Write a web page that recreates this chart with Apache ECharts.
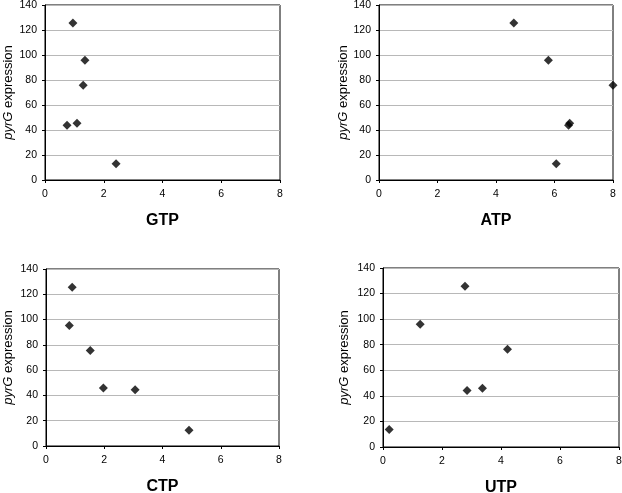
<!DOCTYPE html>
<html><head><meta charset="utf-8">
<script src="https://cdn.jsdelivr.net/npm/echarts@6/dist/echarts.min.js"></script>
<style>html,body{margin:0;padding:0;background:#fff}#c{width:622px;height:493px}</style>
</head><body><div id="c"></div>
<script>
const expression = [125.6, 95.8, 75.9, 43.9, 45.5, 13.0];
const gtp = [0.95, 1.36, 1.30, 0.75, 1.09, 2.42];
const atp = [4.61, 5.79, 8.0, 6.48, 6.52, 6.06];
const ctpExpr = [125.5, 95.3, 75.5, 44.5, 45.8, 12.4];
const ctp = [0.90, 0.80, 1.52, 3.06, 1.97, 4.91];
const utpExpr = [125.8, 96.0, 76.5, 44.1, 46.0, 13.6];
const utp = [2.78, 1.26, 4.22, 2.85, 3.37, 0.21];
const panelNames = ['GTP', 'ATP', 'CTP', 'UTP'];
const xTicks = [0, 2, 4, 6, 8];
const yTicks = [0, 20, 40, 60, 80, 100, 120, 140];

const xs = [gtp, atp, ctp, utp];
const ys = [expression, expression, ctpExpr, utpExpr];
const grids = [
  {left: 45, top: 5, width: 235, height: 175},
  {left: 379, top: 5, width: 234, height: 175},
  {left: 46, top: 269, width: 233, height: 177},
  {left: 383, top: 268, width: 236, height: 179}
];
const xNameGaps = [33, 33, 33, 33];
const yNameGaps = [30, 29, 31, 32];
const font = 'Liberation Sans, Arial, sans-serif';

const option = {
  animation: false,
  grid: grids.map(g => Object.assign({show: true, borderColor: '#000', borderWidth: 1, backgroundColor: '#fff', containLabel: false, outerBoundsMode: 'none'}, g)),
  xAxis: panelNames.map((n, i) => ({
    gridIndex: i, type: 'value', min: xTicks[0], max: xTicks[xTicks.length - 1], interval: 2,
    name: n, nameLocation: 'middle', nameGap: xNameGaps[i],
    nameTextStyle: {fontFamily: font, fontSize: 16, fontWeight: 'bold', color: '#000'},
    axisLine: {show: true, lineStyle: {color: '#000', width: 1}},
    axisTick: {show: true, length: 3, lineStyle: {color: '#000'}},
    axisLabel: {fontFamily: font, fontSize: 10.5, color: '#000', margin: 9},
    splitLine: {show: false}
  })),
  yAxis: panelNames.map((n, i) => ({
    gridIndex: i, type: 'value', min: yTicks[0], max: yTicks[yTicks.length - 1], interval: 20,
    name: '{i|pyrG} expression', nameLocation: 'middle', nameGap: yNameGaps[i],
    nameTextStyle: {fontFamily: font, fontSize: 13, color: '#000',
      rich: {i: {fontFamily: font, fontSize: 13, fontStyle: 'italic', color: '#000'}}},
    axisLine: {show: true, lineStyle: {color: '#000', width: 1}},
    axisTick: {show: true, length: 3, lineStyle: {color: '#000'}},
    axisLabel: {fontFamily: font, fontSize: 10.5, color: '#000', margin: 8},
    splitLine: {show: true, lineStyle: {color: '#b8b8b8', width: 1}}
  })),
  series: panelNames.map((n, i) => ({
    type: 'scatter', xAxisIndex: i, yAxisIndex: i,
    symbol: 'diamond', symbolSize: 9,
    itemStyle: {color: '#000'},
    data: xs[i].map((x, k) => [x, ys[i][k]])
  }))
};
echarts.init(document.getElementById('c')).setOption(option);
</script></body></html>
